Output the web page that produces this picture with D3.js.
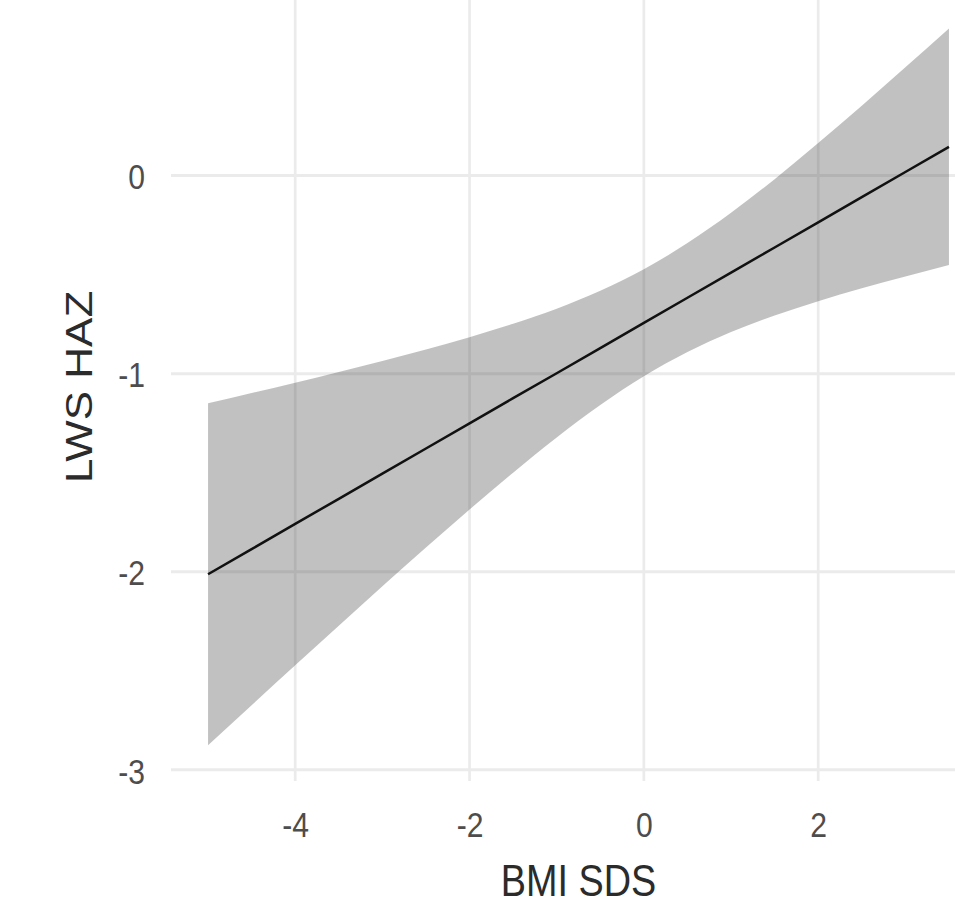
<!DOCTYPE html>
<html>
<head>
<meta charset="utf-8">
<script src="https://cdn.jsdelivr.net/npm/d3@7"></script>
<style>
  html, body { margin: 0; padding: 0; background: #ffffff; }
  svg { display: block; }
</style>
</head>
<body>
<svg id="chart" width="955" height="907"></svg>
<script>
// ---- data ----
const bmiSds   = [-5, -4.5, -4, -3.5, -3, -2.5, -2, -1.5, -1, -0.5, 0, 0.5, 1, 1.5, 2, 2.5, 3, 3.5];
const fitHaz   = [-2.013, -1.886, -1.759, -1.632, -1.505, -1.378, -1.251, -1.124, -0.998, -0.871, -0.744, -0.617, -0.490, -0.363, -0.236, -0.109, 0.018, 0.145];
const upperHaz = [-1.150, -1.098, -1.046, -0.992, -0.936, -0.878, -0.816, -0.748, -0.672, -0.582, -0.473, -0.341, -0.188, -0.018, 0.164, 0.353, 0.547, 0.743];
const lowerHaz = [-2.876, -2.674, -2.473, -2.273, -2.074, -1.878, -1.686, -1.500, -1.322, -1.158, -1.013, -0.891, -0.790, -0.706, -0.634, -0.569, -0.509, -0.451];
const xTicks = [-4, -2, 0, 2];
const xTickLabels = ["-4", "-2", "0", "2"];
const yTicks = [-3, -2, -1, 0];
const yTickLabels = ["-3", "-2", "-1", "0"];
const xTitle = "BMI SDS";
const yTitle = "LWS HAZ";

// ---- layout ----
const svg = d3.select("#chart");
const panel = { left: 171, right: 986, top: -7.4, bottom: 781 };
const sx = 0.86; // horizontal squeeze of text seen in the reference

function expand(lo, hi) { const p = (hi - lo) * 0.05; return [lo - p, hi + p]; }
const xDom = expand(d3.min(bmiSds), d3.max(bmiSds));
const yDom = expand(d3.min(lowerHaz), d3.max(upperHaz));

const x = d3.scaleLinear().domain(xDom).range([panel.left, panel.right]);
const y = d3.scaleLinear().domain(yDom).range([panel.bottom, panel.top]);

// ---- grid ----
const grid = svg.append("g").attr("class", "grid");
grid.selectAll("line.h").data(yTicks).join("line")
  .attr("class", "h")
  .attr("x1", panel.left).attr("x2", panel.right)
  .attr("y1", d => y(d)).attr("y2", d => y(d))
  .attr("stroke", "#EBEBEB").attr("stroke-width", 3);
grid.selectAll("line.v").data(xTicks).join("line")
  .attr("class", "v")
  .attr("x1", d => x(d)).attr("x2", d => x(d))
  .attr("y1", panel.top).attr("y2", panel.bottom)
  .attr("stroke", "#EBEBEB").attr("stroke-width", 2.7);

// ---- ribbon ----
const rows = bmiSds.map((v, i) => ({ x: v, fit: fitHaz[i], lo: lowerHaz[i], hi: upperHaz[i] }));
const area = d3.area()
  .x(d => x(d.x)).y0(d => y(d.lo)).y1(d => y(d.hi))
  .curve(d3.curveMonotoneX);
svg.append("path").datum(rows)
  .attr("d", area)
  .attr("fill", "#333333").attr("fill-opacity", 0.3);

// ---- fitted line ----
const line = d3.line().x(d => x(d.x)).y(d => y(d.fit));
svg.append("path").datum(rows)
  .attr("d", line)
  .attr("fill", "none").attr("stroke", "#111111").attr("stroke-width", 2.5);

// ---- axes ----
const fontFam = "'Liberation Sans', Arial, Helvetica, sans-serif";
const xAxis = d3.axisBottom(x).tickValues(xTicks)
  .tickFormat((d, i) => xTickLabels[i]).tickSize(0).tickPadding(31);
const gx = svg.append("g").attr("transform", `translate(0,${panel.bottom})`).call(xAxis);
gx.select(".domain").remove();
gx.selectAll("text")
  .attr("font-family", fontFam).attr("font-size", 35).attr("fill", "#4D4D4D")
  .attr("transform", `scale(${sx},1)`);

const yAxis = d3.axisLeft(y).tickValues(yTicks)
  .tickFormat((d, i) => yTickLabels[i]).tickSize(0).tickPadding(0);
const gy = svg.append("g").attr("transform", `translate(${panel.left},0)`).call(yAxis);
gy.select(".domain").remove();
gy.selectAll("text")
  .attr("x", 0).attr("dy", "0.38em")
  .attr("font-family", fontFam).attr("font-size", 35).attr("fill", "#4D4D4D")
  .attr("transform", `translate(-26,0) scale(${sx},1)`);

// ---- titles ----
svg.append("text")
  .attr("transform", `translate(${(panel.left + panel.right) / 2},896) scale(${sx},1)`)
  .attr("text-anchor", "middle")
  .attr("font-family", fontFam).attr("font-size", 44).attr("fill", "#2b2b2b")
  .text(xTitle);
svg.append("text")
  .attr("transform", `translate(92,${(panel.top + panel.bottom) / 2}) scale(${sx},1) rotate(-90)`)
  .attr("text-anchor", "middle")
  .attr("font-family", fontFam).attr("font-size", 44).attr("fill", "#2b2b2b")
  .text(yTitle);
</script>
</body>
</html>
